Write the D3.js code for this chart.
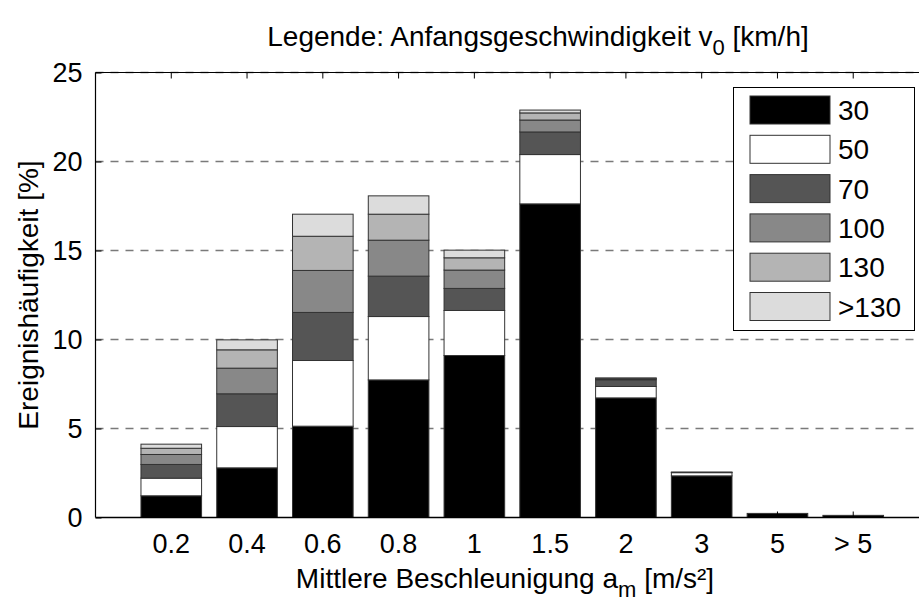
<!DOCTYPE html>
<html><head><meta charset="utf-8">
<script src="https://cdn.jsdelivr.net/npm/d3@7"></script>
<style>body{margin:0;background:#fff;} svg{display:block;} text{font-family:"Liberation Sans",Arial,sans-serif;fill:#000;}</style>
</head><body>
<svg id="c" width="919" height="601"></svg>
<script>
const categories = ["0.2","0.4","0.6","0.8","1","1.5","2","3","5","> 5"];
const seriesNames = ["30","50","70","100","130",">130"];
const v30    = [1.22, 2.79, 5.13, 7.73, 9.10, 17.62, 6.72, 2.34, 0.23, 0.12];
const v50    = [0.99, 2.32, 3.69, 3.56, 2.53, 2.77, 0.64, 0.18, 0, 0];
const v70    = [0.77, 1.84, 2.70, 2.27, 1.24, 1.27, 0.38, 0.02, 0, 0];
const v100   = [0.56, 1.44, 2.36, 2.02, 1.03, 0.67, 0.05, 0.01, 0, 0];
const v130   = [0.35, 1.03, 1.92, 1.46, 0.69, 0.40, 0.03, 0, 0, 0];
const vGt130 = [0.23, 0.56, 1.24, 1.03, 0.43, 0.16, 0.02, 0, 0, 0];
const yTicks = [0, 5, 10, 15, 20, 25];
const colors = ["#000000","#ffffff","#555555","#888888","#b4b4b4","#dcdcdc"];

const seriesVals = [v30, v50, v70, v100, v130, vGt130];
const rows = categories.map((c, i) => {
  const r = {cat: c};
  seriesNames.forEach((s, k) => r[s] = seriesVals[k][i]);
  return r;
});
const stacked = d3.stack().keys(seriesNames)(rows);

const svg = d3.select("#c");
const L = 95.5, R = 929, T = 72.5, B = 517.5;
const step = (R - L) / 11;
const x = d3.scaleBand().domain(categories).range([L + step*0.5, L + step*10.5]).paddingInner(0.2).paddingOuter(0.1);
const y = d3.scaleLinear().domain([0, 25]).range([B, T]);

// grid
svg.append("g").selectAll("line").data(yTicks.filter(t => t > 0)).join("line")
  .attr("x1", L).attr("x2", 919).attr("y1", d => y(d)).attr("y2", d => y(d))
  .attr("stroke", "#7a7a7a").attr("stroke-width", 1.3).attr("stroke-dasharray", "8,7");

// bars
const g = svg.append("g");
stacked.forEach((layer, k) => {
  g.selectAll(null).data(layer.filter(d => d[1] - d[0] > 0)).join("rect")
    .attr("x", d => x(d.data.cat)).attr("width", x.bandwidth())
    .attr("y", d => y(d[1])).attr("height", d => y(d[0]) - y(d[1]))
    .attr("fill", colors[k]).attr("stroke", "#333").attr("stroke-width", 1);
});

// frame
svg.append("line").attr("x1", L).attr("x2", L).attr("y1", T).attr("y2", B).attr("stroke", "#000").attr("stroke-width", 1.2);
svg.append("line").attr("x1", L).attr("x2", 919).attr("y1", B).attr("y2", B).attr("stroke", "#000").attr("stroke-width", 1.5);
svg.append("line").attr("x1", L).attr("x2", 919).attr("y1", T).attr("y2", T).attr("stroke", "#000").attr("stroke-width", 1);

// y axis
const yAxis = d3.axisLeft(y).tickValues(yTicks).tickSize(-6).tickPadding(13).tickFormat(d3.format("d"));
const ya = svg.append("g").attr("transform", `translate(${L},0)`).call(yAxis);
ya.select(".domain").remove();
ya.selectAll("line").attr("stroke", "#000");
ya.selectAll("text").attr("font-size", 27).attr("font-family", "Liberation Sans, Arial, sans-serif");

// x axis bottom
const xAxis = d3.axisBottom(x).tickSize(-6).tickPadding(16);
const xa = svg.append("g").attr("transform", `translate(0,${B})`).call(xAxis);
xa.select(".domain").remove();
xa.selectAll("line").attr("stroke", "#000");
xa.selectAll("text").attr("font-size", 27).attr("font-family", "Liberation Sans, Arial, sans-serif");
// top ticks
const xt = svg.append("g").attr("transform", `translate(0,${T})`).call(d3.axisTop(x).tickSize(-6).tickFormat(""));
xt.select(".domain").remove();
xt.selectAll("line").attr("stroke", "#000");

// title
const title = svg.append("text").attr("x", 538).attr("y", 46).attr("text-anchor", "middle").attr("font-size", 28);
title.append("tspan").text("Legende: Anfangsgeschwindigkeit v");
title.append("tspan").attr("dy", 9).attr("font-size", 22).text("0");
title.append("tspan").attr("dy", -9).text(" [km/h]");

// x label
const xl = svg.append("text").attr("x", 505).attr("y", 588).attr("text-anchor", "middle").attr("font-size", 28);
xl.append("tspan").text("Mittlere Beschleunigung a");
xl.append("tspan").attr("dy", 9).attr("font-size", 22).text("m");
xl.append("tspan").attr("dy", -9).text(" [m/s²]");

// y label
svg.append("text").attr("transform", "translate(38,295) rotate(-90)").attr("text-anchor", "middle")
  .attr("font-size", 28).text("Ereignishäufigkeit [%]");

// legend
const lg = svg.append("g");
lg.append("rect").attr("x", 733.5).attr("y", 87.5).attr("width", 181).attr("height", 243)
  .attr("fill", "#fff").attr("stroke", "#000").attr("stroke-width", 1);
const li = lg.selectAll("g.it").data(seriesNames).join("g").attr("class", "it")
  .attr("transform", (d, i) => `translate(0,${110 + i*39.3})`);
li.append("rect").attr("x", 750).attr("y", -14).attr("width", 80).attr("height", 28)
  .attr("fill", (d, i) => colors[i]).attr("stroke", "#333").attr("stroke-width", 1);
li.append("text").attr("x", 838).attr("y", 10).attr("font-size", 28).text(d => d);
</script>
</body></html>
